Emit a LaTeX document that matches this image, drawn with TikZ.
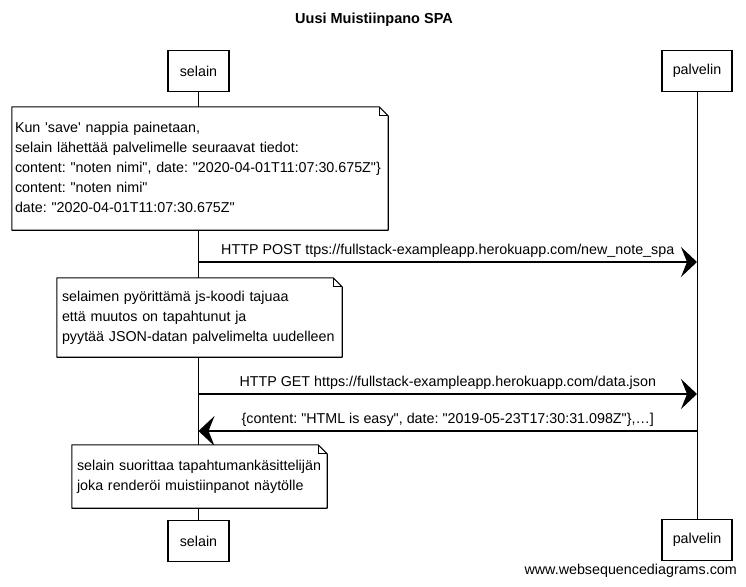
\documentclass[tikz,border=0pt]{standalone}
\usepackage{fontspec}
\setmainfont{Liberation Sans}[Ligatures=TeXOff]
\usetikzlibrary{arrows.meta}
\newcommand\notecorner[1]{%
  \draw[noteline] (#1.north west) -- ([xshift=-9pt]#1.north east) -- ([yshift=-9pt]#1.north east) -- (#1.south east) -- (#1.south west) -- cycle;
  \draw[line width=0.7pt] ([xshift=-9pt]#1.north east) -- ([xshift=-9pt,yshift=-9pt]#1.north east) -- ([yshift=-9pt]#1.north east);}
\newcommand\notelines[1]{\begin{tabular}{@{}l@{}}#1\end{tabular}}
\begin{document}
\frenchspacing
\begin{tikzpicture}[x=1pt,y=-1pt,
  txt/.style={font=\fontsize{14.3}{20}\selectfont\frenchspacing},
  actor/.style={draw, line width=1.1pt, fill=white, minimum height=41pt, inner sep=0pt, txt},
  notebox/.style={fill=white, align=left, inner ysep=0pt, txt},
  noteline/.style={line width=1.1pt, line join=round},
  life/.style={line width=0.8pt},
  msg/.style={line width=1.1pt, -{Stealth[length=16pt,width=30pt,inset=6pt]}},
  lbl/.style={font=\fontsize{14.3}{16}\selectfont\frenchspacing, inner sep=0pt}
]
\useasboundingbox (0,0) rectangle (746,586);
\fill[white] (0,0) rectangle (746,586);

\node[font=\bfseries\fontsize{14.5}{16}\selectfont, inner sep=0pt] (title) at (374,20) {Uusi Muistiinpano SPA};

% participants
\node[actor, minimum width=61pt] (selT) at (198.5,71) {selain};
\node[actor, minimum width=70pt] (palT) at (697,71) {palvelin};
\node[actor, minimum width=61pt] (selB) at (198.5,541) {selain};
\node[actor, minimum width=70pt] (palB) at (697,540) {palvelin};

% lifelines
\draw[life] (selT) -- (selB);
\draw[life] (palT) -- (palB);

% note 1
\node[notebox, inner xsep=3pt, text width=370pt, minimum height=123pt] (n1) at (200,168.5)
{\notelines{Kun \textquotesingle save\textquotesingle\ nappia painetaan,\\
selain lähettää palvelimelle seuraavat tiedot:\\
content: "noten nimi", date: "2020-04-01T11:07:30.675Z"\}\\
content: "noten nimi"\\
date: "2020-04-01T11:07:30.675Z"}};
\notecorner{n1}

% message 1
\coordinate (m1a) at (198.5,262);
\coordinate (m1b) at (697,262);
\draw[msg] (m1a) -- node[lbl, midway, above=4pt] (l1) {HTTP POST ttps://fullstack-exampleapp.herokuapp.com/new\_note\_spa} (m1b);

% note 2
\node[notebox, inner xsep=5pt, text width=275pt, minimum height=79pt] (n2) at (199.5,317.5)
{\notelines{selaimen pyörittämä js-koodi tajuaa\\
että muutos on tapahtunut ja\\
pyytää JSON-datan palvelimelta uudelleen}};
\notecorner{n2}

% message 2
\coordinate (m2a) at (198.5,394);
\coordinate (m2b) at (697,394);
\draw[msg] (m2a) -- node[lbl, midway, above=4pt] (l2) {HTTP GET https://fullstack-exampleapp.herokuapp.com/data.json} (m2b);

% message 3
\coordinate (m3a) at (697,431);
\coordinate (m3b) at (198.5,431);
\draw[msg] (m3a) -- node[lbl, midway, above=4pt] (l3) {\{content: "HTML is easy", date: "2019-05-23T17:30:31.098Z"\},…]} (m3b);

% note 3
\node[notebox, inner xsep=5pt, text width=245pt, minimum height=63pt] (n3) at (199.5,476.5)
{\notelines{selain suorittaa tapahtumankäsittelijän\\
joka renderöi muistiinpanot näytölle}};
\notecorner{n3}

\node[anchor=east, font=\fontsize{14.3}{16}\selectfont, inner sep=0pt] (wsd) at (737,571) {www.websequencediagrams.com};
\end{tikzpicture}
\end{document}
